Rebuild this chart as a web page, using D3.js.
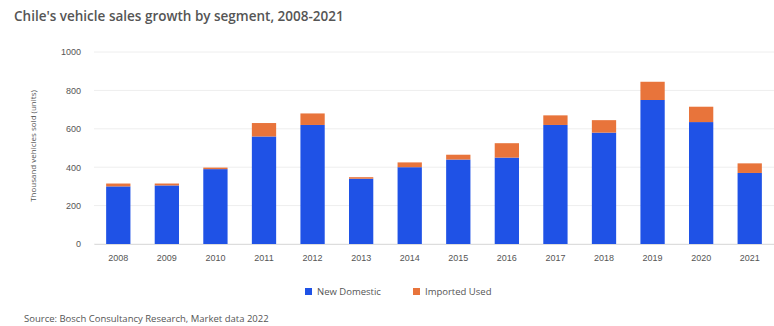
<!DOCTYPE html>
<html>
<head>
<meta charset="utf-8">
<script src="https://cdn.jsdelivr.net/npm/d3@7"></script>
<style>
  body { margin: 0; background: #fff; font-family: "Open Sans", "Liberation Sans", sans-serif; }
  svg text { fill: #555; }
</style>
</head>
<body>
<svg id="chart" width="774" height="326"></svg>
<script>
// --- Data ---
const years = ['2008', '2009', '2010', '2011', '2012', '2013', '2014',
               '2015', '2016', '2017', '2018', '2019', '2020', '2021'];
const newDomestic = [300, 305, 390, 560, 620, 340, 400, 440, 450, 620, 580, 750, 635, 370];
const importedUsed = [15, 10, 8, 70, 60, 8, 25, 25, 75, 50, 65, 95, 80, 50];
const yTicks = [0, 200, 400, 600, 800, 1000];
const seriesNames = ['New Domestic', 'Imported Used'];
const colors = ['#1f52e6', '#e8743b'];

const svg = d3.select('#chart');
const margin = { top: 52, right: 0, bottom: 82, left: 94 };
const width = 774 - margin.left - margin.right;
const height = 326 - margin.top - margin.bottom;

const g = svg.append('g').attr('transform', `translate(${margin.left},${margin.top})`);

const x = d3.scaleBand().domain(years).range([0, width]).paddingInner(0.5).paddingOuter(0.25);
const y = d3.scaleLinear().domain([0, 1000]).range([height, 0]);

// Gridlines
g.append('g')
  .selectAll('line')
  .data(yTicks)
  .join('line')
  .attr('x1', 0).attr('x2', width)
  .attr('y1', d => y(d)).attr('y2', d => y(d))
  .attr('stroke', '#eeeeee');

// Stacked bars
const rows = years.map((yr, i) => ({ year: yr, a: newDomestic[i], b: importedUsed[i] }));
const stack = d3.stack().keys(['a', 'b'])(rows);

g.append('g')
  .selectAll('g')
  .data(stack)
  .join('g')
  .attr('fill', (d, i) => colors[i])
  .selectAll('rect')
  .data(d => d)
  .join('rect')
  .attr('x', d => x(d.data.year))
  .attr('width', x.bandwidth())
  .attr('y', d => y(d[1]))
  .attr('height', d => y(d[0]) - y(d[1]));

// Axes
const yAxis = g.append('g')
  .call(d3.axisLeft(y).tickValues(yTicks).tickSize(0).tickPadding(13).tickFormat(d3.format('d')));
yAxis.select('.domain').remove();
yAxis.selectAll('text').style('font-size', '9px').attr('fill', '#666');

const xAxis = g.append('g')
  .attr('transform', `translate(0,${height})`)
  .call(d3.axisBottom(x).tickSize(0).tickPadding(11));
xAxis.select('.domain').attr('stroke', '#ddd');
xAxis.selectAll('text').style('font-size', '9px').attr('fill', '#666');

// Y axis title
svg.append('text')
  .attr('transform', `translate(36,${margin.top + height / 2 - 2}) rotate(-90)`)
  .attr('text-anchor', 'middle')
  .style('font-size', '8px')
  .attr('fill', '#777')
  .text('Thousand vehicles sold (units)');

// Title
svg.append('text')
  .attr('x', 14).attr('y', 21)
  .style('font-size', '13.5px')
  .style('font-weight', '600')
  .attr('fill', '#333')
  .text("Chile's vehicle sales growth by segment, 2008-2021");

// Legend
const legend = svg.append('g').attr('transform', 'translate(305,292)');
const items = legend.selectAll('g')
  .data(seriesNames)
  .join('g')
  .attr('transform', (d, i) => `translate(${i * 108},0)`);
items.append('rect')
  .attr('x', 0).attr('y', -4).attr('width', 7).attr('height', 7)
  .attr('fill', (d, i) => colors[i]);
items.append('text')
  .attr('x', 12).attr('y', 3)
  .style('font-size', '9.5px')
  .attr('fill', '#666')
  .text(d => d);

// Source
svg.append('text')
  .attr('x', 24).attr('y', 322)
  .style('font-size', '9.5px')
  .attr('fill', '#555')
  .text('Source: Bosch Consultancy Research, Market data 2022');
</script>
</body>
</html>
